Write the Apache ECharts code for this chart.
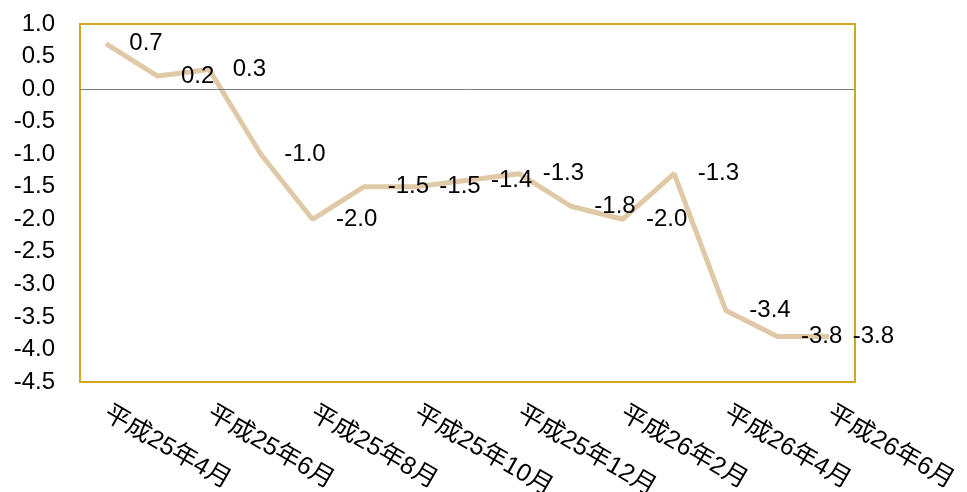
<!DOCTYPE html>
<html><head><meta charset="utf-8">
<script src="https://cdn.jsdelivr.net/npm/echarts@6/dist/echarts.min.js"></script>
<style>html,body{margin:0;padding:0;background:#fff}#c{width:967px;height:492px}</style>
</head><body><div id="c"></div>
<script>
const categories = ['平成25年4月','平成25年5月','平成25年6月','平成25年7月','平成25年8月','平成25年9月','平成25年10月','平成25年11月','平成25年12月','平成26年1月','平成26年2月','平成26年3月','平成26年4月','平成26年5月','平成26年6月'];
const values = [0.7, 0.2, 0.3, -1.0, -2.0, -1.5, -1.5, -1.4, -1.3, -1.8, -2.0, -1.3, -3.4, -3.8, -3.8];
const yTicks = {min: -4.5, max: 1.0, interval: 0.5};

const chart = echarts.init(document.getElementById('c'));
const font = 'Liberation Sans, Arial, Noto Sans CJK JP, sans-serif';
chart.setOption({
  animation: false,
  grid: {left: 80, right: 112, top: 24, bottom: 110, outerBoundsMode: 'none', containLabel: false, show: true, borderColor: '#D4A520', borderWidth: 2, backgroundColor: 'transparent'},
  xAxis: {
    type: 'category', data: categories, boundaryGap: true,
    axisLine: {show: false}, axisTick: {show: false}, splitLine: {show: false},
    axisLabel: {interval: 1, rotate: -30, fontSize: 25, color: '#000', fontFamily: font, margin: 30}
  },
  yAxis: {
    type: 'value', min: yTicks.min, max: yTicks.max, interval: yTicks.interval,
    axisLine: {show: false}, axisTick: {show: false}, splitLine: {show: false},
    axisLabel: {fontSize: 24, color: '#000', fontFamily: font, margin: 25, formatter: v => v.toFixed(1)}
  },
  series: [{
    type: 'line', data: values, symbol: 'circle', symbolSize: 1, showSymbol: true, smooth: false,
    itemStyle: {color: 'rgba(0,0,0,0)'},
    lineStyle: {color: '#E0C9A6', width: 5},
    labelLayout: {hideOverlap: false},
    label: {show: true, position: 'right', distance: 23, offset: [0, 3], fontSize: 24, color: '#000', fontFamily: font, formatter: p => p.value.toFixed(1)},
    markLine: {silent: true, symbol: 'none', label: {show: false}, lineStyle: {color: '#808080', width: 1, type: 'solid'}, data: [{yAxis: 0}]}
  }]
});
</script></body></html>
